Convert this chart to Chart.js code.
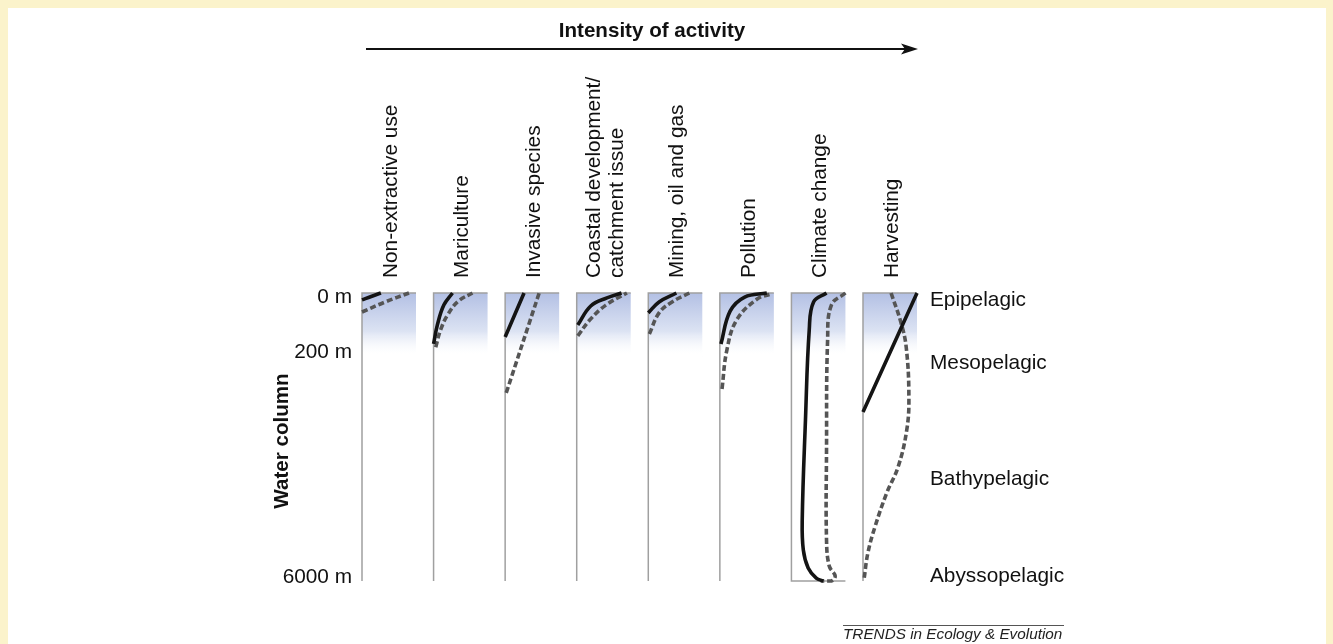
<!DOCTYPE html>
<html>
<head>
<meta charset="utf-8">
<script src="https://cdn.jsdelivr.net/npm/chart.js@4.4.0/dist/chart.umd.min.js"></script>
<style>
  html, body { margin: 0; padding: 0; background: #fbf3cb; }
  #frame { position: absolute; left: 8px; top: 8px; width: 1318px; height: 636px; background: #fff; }
  #chart { position: absolute; left: 0; top: 0; }
</style>
</head>
<body>
<div id="frame"></div>
<canvas id="chart" width="1333" height="644"></canvas>
<script>
// activities (one small panel each)
const categories = ["Non-extractive use", "Mariculture", "Invasive species",
    ["Coastal development/", "catchment issue"], "Mining, oil and gas",
    "Pollution", "Climate change", "Harvesting"];

// depth axis: 0 = surface, 100 = 6000 m (drawn depth units)
const depthTicks = ["0 m", "200 m", "6000 m"];
const depthTickPos = [0, 20.5, 100];
const zones = ["Epipelagic", "Mesopelagic", "Bathypelagic", "Abyssopelagic"];
const zonePos = [2.4, 24.3, 64.6, 98.3];

// intensity (0..1) vs depth, solid line per panel
const solidSeries = [
    [{x: 0, y: 2.4}, {x: 0.17, y: 1.2}, {x: 0.35, y: 0}],
    [{x: 0, y: 17.7}, {x: 0.07, y: 11.1}, {x: 0.19, y: 4.2}, {x: 0.35, y: 0}],
    [{x: 0, y: 15.3}, {x: 0.35, y: 0}],
    [{x: 0.02, y: 11.1}, {x: 0.26, y: 4.5}, {x: 0.56, y: 1.7}, {x: 0.83, y: 0}],
    [{x: 0, y: 6.9}, {x: 0.2, y: 3.1}, {x: 0.52, y: 0}],
    [{x: 0.02, y: 17.7}, {x: 0.19, y: 6.3}, {x: 0.46, y: 1.4}, {x: 0.87, y: 0}],
    [{x: 0.65, y: 0}, {x: 0.41, y: 3.1}, {x: 0.33, y: 12.8}, {x: 0.26, y: 44.1},
     {x: 0.2, y: 78.8}, {x: 0.22, y: 89.2}, {x: 0.31, y: 95.5}, {x: 0.46, y: 99}, {x: 0.59, y: 100}],
    [{x: 0, y: 41.3}, {x: 1, y: 0}]
];

// dashed line per panel
const dashedSeries = [
    [{x: 0, y: 6.6}, {x: 0.43, y: 3.1}, {x: 0.87, y: 0}],
    [{x: 0.04, y: 18.8}, {x: 0.13, y: 12.8}, {x: 0.26, y: 7.6}, {x: 0.46, y: 2.8}, {x: 0.72, y: 0}],
    [{x: 0.02, y: 34.7}, {x: 0.63, y: 0}],
    [{x: 0.02, y: 14.9}, {x: 0.24, y: 9.4}, {x: 0.54, y: 4.2}, {x: 0.93, y: 0}],
    [{x: 0.02, y: 14.2}, {x: 0.2, y: 6.9}, {x: 0.44, y: 3.1}, {x: 0.76, y: 0}],
    [{x: 0.04, y: 33.3}, {x: 0.13, y: 19.8}, {x: 0.31, y: 9.4}, {x: 0.69, y: 2.1}, {x: 0.96, y: 0.3}],
    [{x: 1, y: 0}, {x: 0.74, y: 4.2}, {x: 0.67, y: 16.3}, {x: 0.65, y: 54.5}, {x: 0.65, y: 85.8},
     {x: 0.7, y: 94.8}, {x: 0.81, y: 98.3}, {x: 0.74, y: 100}, {x: 0.54, y: 100}],
    [{x: 0.52, y: 0}, {x: 0.7, y: 10.1}, {x: 0.8, y: 18.8}, {x: 0.85, y: 36.1}, {x: 0.81, y: 47.6},
     {x: 0.65, y: 60.4}, {x: 0.44, y: 69.4}, {x: 0.22, y: 81.3}, {x: 0.09, y: 90.3}, {x: 0.02, y: 99.3}]
];

const gap = 1.3254;   // panel step in intensity units
const boxed = 6;      // climate change panel has a bottom line

const FONT = "'Liberation Sans', Arial, Helvetica, sans-serif";

const datasets = [];
categories.forEach((c, i) => {
    datasets.push({
        data: solidSeries[i].map(p => ({x: i * gap + p.x, y: p.y})),
        borderColor: "#141414", borderWidth: 3.6, tension: 0.4
    });
    datasets.push({
        data: dashedSeries[i].map(p => ({x: i * gap + p.x, y: p.y})),
        borderColor: "#555", borderWidth: 3.6, borderDash: [6, 3], tension: 0.4
    });
});

const panels = {
    id: "panels",
    beforeDatasetsDraw(chart) {
        const ctx = chart.ctx, x = chart.scales.x, y = chart.scales.y;
        const top = y.getPixelForValue(0), bottom = y.getPixelForValue(100);
        const g200 = y.getPixelForValue(depthTickPos[1]) + 5;
        ctx.save();
        categories.forEach((c, i) => {
            const l = x.getPixelForValue(i * gap), r = x.getPixelForValue(i * gap + 1);
            const grad = ctx.createLinearGradient(0, top, 0, g200);
            grad.addColorStop(0, "#b3c0e4");
            grad.addColorStop(0.6, "#dce3f3");
            grad.addColorStop(1, "rgba(255,255,255,0)");
            ctx.fillStyle = grad;
            ctx.fillRect(l, top, r - l, g200 - top);
            ctx.strokeStyle = "#a0a0a0";
            ctx.lineWidth = 1.5;
            ctx.beginPath();
            ctx.moveTo(r, top); ctx.lineTo(l, top); ctx.lineTo(l, bottom);
            if (i === boxed) ctx.lineTo(r, bottom);
            ctx.stroke();
        });
        ctx.restore();
    },
    afterDraw(chart) {
        const ctx = chart.ctx, x = chart.scales.x, y = chart.scales.y;
        ctx.save();
        ctx.fillStyle = "#111";
        // column labels
        ctx.font = "20.8px " + FONT;
        ctx.textAlign = "left";
        ctx.textBaseline = "middle";
        categories.forEach((c, i) => {
            const lines = Array.isArray(c) ? c : [c];
            const cx = x.getPixelForValue(i * gap) + 29;
            lines.forEach((t, k) => {
                ctx.save();
                ctx.translate(cx + (k - (lines.length - 1) / 2) * 23, 278);
                ctx.rotate(-Math.PI / 2);
                ctx.fillText(t, 0, 0);
                ctx.restore();
            });
        });
        // depth ticks
        ctx.textAlign = "right";
        const nudge = [4, 0, -4];
        depthTicks.forEach((t, k) => {
            ctx.fillText(t, chart.chartArea.left - 10, y.getPixelForValue(depthTickPos[k]) + nudge[k]);
        });
        // zones
        ctx.textAlign = "left";
        zones.forEach((t, k) => {
            ctx.fillText(t, chart.chartArea.right + 13, y.getPixelForValue(zonePos[k]));
        });
        // axis titles
        ctx.font = "bold 20.6px " + FONT;
        ctx.save();
        ctx.translate(282, 441);
        ctx.rotate(-Math.PI / 2);
        ctx.textAlign = "center";
        ctx.fillText("Water column", 0, 0);
        ctx.restore();
        ctx.textAlign = "center";
        ctx.fillText("Intensity of activity", 652, 31);
        // arrow
        ctx.strokeStyle = "#111";
        ctx.lineWidth = 2;
        ctx.beginPath();
        ctx.moveTo(366, 49); ctx.lineTo(906, 49);
        ctx.stroke();
        ctx.beginPath();
        ctx.moveTo(918, 49); ctx.lineTo(901, 43.5); ctx.lineTo(905, 49); ctx.lineTo(901, 54.5);
        ctx.closePath();
        ctx.fill();
        // footer
        ctx.strokeStyle = "#555";
        ctx.lineWidth = 1;
        ctx.beginPath();
        ctx.moveTo(843, 625.5); ctx.lineTo(1064, 625.5);
        ctx.stroke();
        ctx.font = "italic 15.3px " + FONT;
        ctx.fillStyle = "#222";
        ctx.textAlign = "left";
        ctx.fillText("TRENDS in Ecology & Evolution", 843, 635);
        ctx.restore();
    }
};

new Chart(document.getElementById("chart"), {
    type: "scatter",
    data: {datasets: datasets},
    options: {
        responsive: false,
        animation: false,
        showLine: true,
        clip: false,
        layout: {padding: {left: 362, right: 416, top: 293, bottom: 63}},
        elements: {point: {radius: 0}},
        plugins: {legend: {display: false}, tooltip: {enabled: false}},
        scales: {
            x: {display: false, min: 0, max: 7 * gap + 1},
            y: {display: false, min: 0, max: 100, reverse: true}
        }
    },
    plugins: [panels]
});
</script>
</body>
</html>
